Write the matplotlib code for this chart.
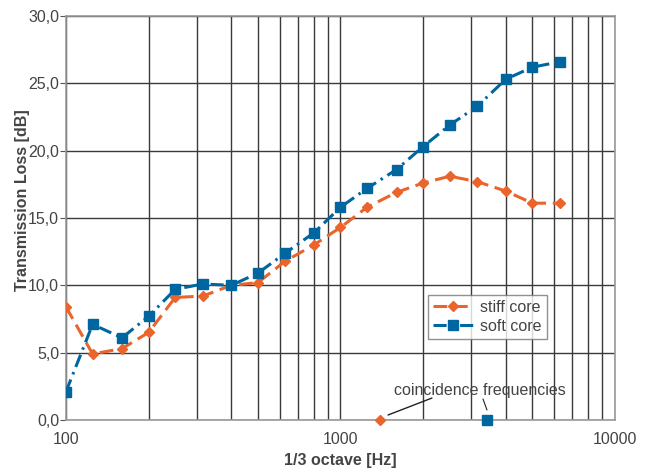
import matplotlib
matplotlib.use("Agg")
import matplotlib.pyplot as plt
from matplotlib.ticker import FixedLocator, FuncFormatter, NullFormatter

plt.rcParams["font.family"] = ["Liberation Sans", "DejaVu Sans"]

# 1/3 octave band centre frequencies
freqs = [100, 125, 160, 200, 250, 315, 400, 500, 630, 800, 1000,
         1250, 1600, 2000, 2500, 3150, 4000, 5000, 6300]

stiff_tl = [8.4, 4.9, 5.3, 6.5, 9.1, 9.2, 10.0, 10.2, 11.8, 13.0, 14.3,
            15.8, 16.9, 17.6, 18.1, 17.7, 17.0, 16.1, 16.1]
soft_tl = [2.1, 7.1, 6.1, 7.7, 9.7, 10.1, 10.0, 10.9, 12.4, 13.9, 15.8,
           17.2, 18.6, 20.3, 21.9, 23.3, 25.3, 26.2, 26.6]

# coincidence frequencies
coinc_stiff = 1390
coinc_soft = 3430

orange = "#E9652B"
blue = "#0066A0"
grey = "#444444"

fig = plt.figure(figsize=(6.47, 4.68), dpi=100)
ax = fig.add_axes([0.102, 0.1026, 0.8485, 0.8632])

ax.plot(freqs, stiff_tl, color=orange, lw=2.2, dashes=(4.5, 2.2),
        marker="D", ms=5.5, mec=orange, label="stiff core", zorder=4)
ax.plot(freqs, soft_tl, color=blue, lw=2.2, dashes=(4.3, 1.8, 0.8, 1.8),
        marker="s", ms=7, mec=blue, label="soft core", zorder=4)

ax.plot([coinc_stiff], [0], marker="D", ms=5.5, color=orange, ls="none",
        clip_on=False, zorder=5)
ax.plot([coinc_soft], [0], marker="s", ms=7, color=blue, ls="none",
        clip_on=False, zorder=5)

ax.text(3224, 2.2, "coincidence frequencies", ha="center", va="center",
        fontsize=11.5, color=grey, zorder=6)
ax.annotate("", xy=(1490, 0.37), xytext=(2154, 1.63),
            arrowprops=dict(arrowstyle="-", color="#222222", lw=1,
                            shrinkA=0, shrinkB=0))
ax.annotate("", xy=(3418, 0.74), xytext=(3305, 1.56),
            arrowprops=dict(arrowstyle="-", color="#222222", lw=0.8,
                            shrinkA=0, shrinkB=0))

ax.set_xscale("log")
ax.set_xlim(100, 10000)
ax.set_ylim(0, 30)

ax.xaxis.set_major_locator(FixedLocator([100, 1000, 10000]))
ax.xaxis.set_major_formatter(FuncFormatter(lambda v, p: f"{int(v)}"))
ax.xaxis.set_minor_formatter(NullFormatter())
ax.set_yticks([0, 5, 10, 15, 20, 25, 30])
ax.yaxis.set_major_formatter(FuncFormatter(lambda v, p: f"{v:.1f}".replace(".", ",")))

ax.grid(True, which="major", color="#3a3a3a", lw=1)
ax.grid(True, which="minor", axis="x", color="#3a3a3a", lw=1)
ax.set_axisbelow(True)

ax.tick_params(axis="x", which="both", length=0, labelsize=11.5,
               labelcolor=grey, pad=9)
ax.tick_params(axis="y", length=4, color="#555555", labelsize=11.5,
               labelcolor=grey, pad=1)

for s in ax.spines.values():
    s.set_color("#999999")
    s.set_linewidth(1.2)

ax.set_xlabel("1/3 octave [Hz]", fontsize=11.5, fontweight="bold",
              color=grey, labelpad=4)
ax.set_ylabel("Transmission Loss [dB]", fontsize=11.5, fontweight="bold",
              color=grey)
ax.yaxis.set_label_coords(-0.066, 0.545)

leg = ax.legend(loc="upper left", bbox_to_anchor=(0.659, 0.309),
                fontsize=11.5, frameon=True, fancybox=False,
                handlelength=2.6, handletextpad=0.4, borderpad=0.3,
                labelspacing=0.25, borderaxespad=0)
leg.get_frame().set_edgecolor("#777777")
leg.get_frame().set_linewidth(1)
for t in leg.get_texts():
    t.set_color(grey)

fig.savefig("out.png", dpi=100)
